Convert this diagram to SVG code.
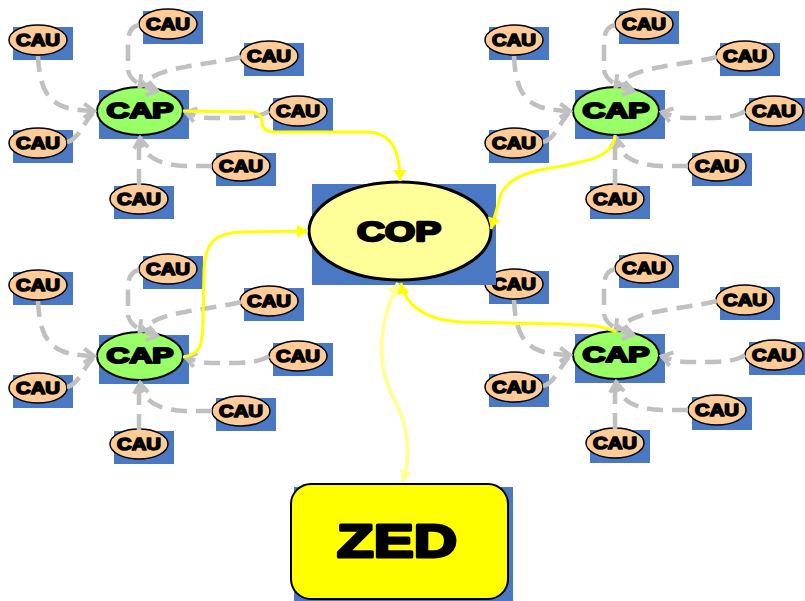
<svg xmlns="http://www.w3.org/2000/svg" width="805" height="601" viewBox="0 0 805 601">
<style>
.sh{fill:#4a78c2}
.cau{fill:#ffcc99;stroke:#000;stroke-width:1.5}
.cap{fill:#99ff66;stroke:#000;stroke-width:2}
.cop{fill:#ffff99;stroke:#000;stroke-width:3}
.zed{fill:#ffff00;stroke:#000;stroke-width:2}
text{font-family:"Liberation Sans",Arial,sans-serif;font-weight:bold;text-anchor:middle;fill:#000;stroke:#000;stroke-linejoin:round}
.t-cau{font-size:16px;stroke-width:1.5}
.t-cap{font-size:22px;stroke-width:2.1}
.t-cop{font-size:28px;stroke-width:2.4}
.t-zed{font-size:47px;stroke-width:3}
.g{fill:none;stroke:#c0c0c0;stroke-width:4.5;stroke-dasharray:16 9;marker-end:url(#ga)}
.y{fill:none;stroke:#ffff00;stroke-width:3;marker-end:url(#ya)}
.p{fill:none;stroke:#ffff99;stroke-width:4;marker-end:url(#pa);marker-start:url(#pa)}
</style>
<defs>
<marker id="ga" markerUnits="userSpaceOnUse" viewBox="-15 -10 17 20" markerWidth="17" markerHeight="20" refX="0" refY="0" orient="auto">
<path d="M-11,-7 L-1,0 L-11,7" fill="none" stroke="#c0c0c0" stroke-width="4"/>
</marker>
<marker id="ya" markerUnits="userSpaceOnUse" viewBox="-12 -7 13 14" markerWidth="13" markerHeight="14" refX="0" refY="0" orient="auto">
<path d="M-11,-6.5 L0,0 L-11,6.5 Z" fill="#ffff00"/>
</marker>
<marker id="pa" markerUnits="userSpaceOnUse" viewBox="-12 -7 13 14" markerWidth="13" markerHeight="14" refX="0" refY="0" orient="auto-start-reverse">
<path d="M-11,-6.5 L0,0 L-11,6.5 Z" fill="#ffff99"/>
</marker>
</defs>
<rect width="805" height="601" fill="#fff"/>

<g id="cluster-tl">
<g id="cap-tl" transform="translate(140,111)"><rect class="sh" x="-41" y="-21" width="90" height="49"/><ellipse class="cap" rx="43" ry="24"/><text class="t-cap" y="7" textLength="67" lengthAdjust="spacingAndGlyphs">CAP</text></g>
<g id="cau-tl-1" transform="translate(38,40)"><rect class="sh" x="-25" y="-13" width="60" height="33"/><ellipse class="cau" rx="29" ry="15"/><text class="t-cau" y="6" textLength="44" lengthAdjust="spacingAndGlyphs">CAU</text></g>
<g id="cau-tl-2" transform="translate(168,24)"><rect class="sh" x="-25" y="-13" width="60" height="33"/><ellipse class="cau" rx="29" ry="15"/><text class="t-cau" y="6" textLength="44" lengthAdjust="spacingAndGlyphs">CAU</text></g>
<g id="cau-tl-3" transform="translate(269,56)"><rect class="sh" x="-25" y="-13" width="60" height="33"/><ellipse class="cau" rx="29" ry="15"/><text class="t-cau" y="6" textLength="44" lengthAdjust="spacingAndGlyphs">CAU</text></g>
<g id="cau-tl-4" transform="translate(298,111)"><rect class="sh" x="-25" y="-13" width="60" height="33"/><ellipse class="cau" rx="29" ry="15"/><text class="t-cau" y="6" textLength="44" lengthAdjust="spacingAndGlyphs">CAU</text></g>
<g id="cau-tl-5" transform="translate(241,166)"><rect class="sh" x="-25" y="-13" width="60" height="33"/><ellipse class="cau" rx="29" ry="15"/><text class="t-cau" y="6" textLength="44" lengthAdjust="spacingAndGlyphs">CAU</text></g>
<g id="cau-tl-6" transform="translate(139,199)"><rect class="sh" x="-25" y="-13" width="60" height="33"/><ellipse class="cau" rx="29" ry="15"/><text class="t-cau" y="6" textLength="44" lengthAdjust="spacingAndGlyphs">CAU</text></g>
<g id="cau-tl-7" transform="translate(38,143)"><rect class="sh" x="-25" y="-13" width="60" height="33"/><ellipse class="cau" rx="29" ry="15"/><text class="t-cau" y="6" textLength="44" lengthAdjust="spacingAndGlyphs">CAU</text></g>
</g>

<g id="cluster-tr" transform="translate(476,0)">
<g id="cap-tr" transform="translate(140,111)"><rect class="sh" x="-41" y="-21" width="90" height="49"/><ellipse class="cap" rx="43" ry="24"/><text class="t-cap" y="7" textLength="67" lengthAdjust="spacingAndGlyphs">CAP</text></g>
<g id="cau-tr-1" transform="translate(38,40)"><rect class="sh" x="-25" y="-13" width="60" height="33"/><ellipse class="cau" rx="29" ry="15"/><text class="t-cau" y="6" textLength="44" lengthAdjust="spacingAndGlyphs">CAU</text></g>
<g id="cau-tr-2" transform="translate(168,24)"><rect class="sh" x="-25" y="-13" width="60" height="33"/><ellipse class="cau" rx="29" ry="15"/><text class="t-cau" y="6" textLength="44" lengthAdjust="spacingAndGlyphs">CAU</text></g>
<g id="cau-tr-3" transform="translate(269,56)"><rect class="sh" x="-25" y="-13" width="60" height="33"/><ellipse class="cau" rx="29" ry="15"/><text class="t-cau" y="6" textLength="44" lengthAdjust="spacingAndGlyphs">CAU</text></g>
<g id="cau-tr-4" transform="translate(298,111)"><rect class="sh" x="-25" y="-13" width="60" height="33"/><ellipse class="cau" rx="29" ry="15"/><text class="t-cau" y="6" textLength="44" lengthAdjust="spacingAndGlyphs">CAU</text></g>
<g id="cau-tr-5" transform="translate(241,166)"><rect class="sh" x="-25" y="-13" width="60" height="33"/><ellipse class="cau" rx="29" ry="15"/><text class="t-cau" y="6" textLength="44" lengthAdjust="spacingAndGlyphs">CAU</text></g>
<g id="cau-tr-6" transform="translate(139,199)"><rect class="sh" x="-25" y="-13" width="60" height="33"/><ellipse class="cau" rx="29" ry="15"/><text class="t-cau" y="6" textLength="44" lengthAdjust="spacingAndGlyphs">CAU</text></g>
<g id="cau-tr-7" transform="translate(38,143)"><rect class="sh" x="-25" y="-13" width="60" height="33"/><ellipse class="cau" rx="29" ry="15"/><text class="t-cau" y="6" textLength="44" lengthAdjust="spacingAndGlyphs">CAU</text></g>
</g>

<g id="cluster-bl" transform="translate(0,245)">
<g id="cap-bl" transform="translate(140,111)"><rect class="sh" x="-41" y="-21" width="90" height="49"/><ellipse class="cap" rx="43" ry="24"/><text class="t-cap" y="7" textLength="67" lengthAdjust="spacingAndGlyphs">CAP</text></g>
<g id="cau-bl-1" transform="translate(38,40)"><rect class="sh" x="-25" y="-13" width="60" height="33"/><ellipse class="cau" rx="29" ry="15"/><text class="t-cau" y="6" textLength="44" lengthAdjust="spacingAndGlyphs">CAU</text></g>
<g id="cau-bl-2" transform="translate(168,24)"><rect class="sh" x="-25" y="-13" width="60" height="33"/><ellipse class="cau" rx="29" ry="15"/><text class="t-cau" y="6" textLength="44" lengthAdjust="spacingAndGlyphs">CAU</text></g>
<g id="cau-bl-3" transform="translate(269,56)"><rect class="sh" x="-25" y="-13" width="60" height="33"/><ellipse class="cau" rx="29" ry="15"/><text class="t-cau" y="6" textLength="44" lengthAdjust="spacingAndGlyphs">CAU</text></g>
<g id="cau-bl-4" transform="translate(298,111)"><rect class="sh" x="-25" y="-13" width="60" height="33"/><ellipse class="cau" rx="29" ry="15"/><text class="t-cau" y="6" textLength="44" lengthAdjust="spacingAndGlyphs">CAU</text></g>
<g id="cau-bl-5" transform="translate(241,166)"><rect class="sh" x="-25" y="-13" width="60" height="33"/><ellipse class="cau" rx="29" ry="15"/><text class="t-cau" y="6" textLength="44" lengthAdjust="spacingAndGlyphs">CAU</text></g>
<g id="cau-bl-6" transform="translate(139,199)"><rect class="sh" x="-25" y="-13" width="60" height="33"/><ellipse class="cau" rx="29" ry="15"/><text class="t-cau" y="6" textLength="44" lengthAdjust="spacingAndGlyphs">CAU</text></g>
<g id="cau-bl-7" transform="translate(38,143)"><rect class="sh" x="-25" y="-13" width="60" height="33"/><ellipse class="cau" rx="29" ry="15"/><text class="t-cau" y="6" textLength="44" lengthAdjust="spacingAndGlyphs">CAU</text></g>
</g>

<g id="cluster-br" transform="translate(476,244)">
<g id="cap-br" transform="translate(140,111)"><rect class="sh" x="-41" y="-21" width="90" height="49"/><ellipse class="cap" rx="43" ry="24"/><text class="t-cap" y="7" textLength="67" lengthAdjust="spacingAndGlyphs">CAP</text></g>
<g id="cau-br-1" transform="translate(38,40)"><rect class="sh" x="-25" y="-13" width="60" height="33"/><ellipse class="cau" rx="29" ry="15"/><text class="t-cau" y="6" textLength="44" lengthAdjust="spacingAndGlyphs">CAU</text></g>
<g id="cau-br-2" transform="translate(168,24)"><rect class="sh" x="-25" y="-13" width="60" height="33"/><ellipse class="cau" rx="29" ry="15"/><text class="t-cau" y="6" textLength="44" lengthAdjust="spacingAndGlyphs">CAU</text></g>
<g id="cau-br-3" transform="translate(269,56)"><rect class="sh" x="-25" y="-13" width="60" height="33"/><ellipse class="cau" rx="29" ry="15"/><text class="t-cau" y="6" textLength="44" lengthAdjust="spacingAndGlyphs">CAU</text></g>
<g id="cau-br-4" transform="translate(298,111)"><rect class="sh" x="-25" y="-13" width="60" height="33"/><ellipse class="cau" rx="29" ry="15"/><text class="t-cau" y="6" textLength="44" lengthAdjust="spacingAndGlyphs">CAU</text></g>
<g id="cau-br-5" transform="translate(241,166)"><rect class="sh" x="-25" y="-13" width="60" height="33"/><ellipse class="cau" rx="29" ry="15"/><text class="t-cau" y="6" textLength="44" lengthAdjust="spacingAndGlyphs">CAU</text></g>
<g id="cau-br-6" transform="translate(139,199)"><rect class="sh" x="-25" y="-13" width="60" height="33"/><ellipse class="cau" rx="29" ry="15"/><text class="t-cau" y="6" textLength="44" lengthAdjust="spacingAndGlyphs">CAU</text></g>
<g id="cau-br-7" transform="translate(38,143)"><rect class="sh" x="-25" y="-13" width="60" height="33"/><ellipse class="cau" rx="29" ry="15"/><text class="t-cau" y="6" textLength="44" lengthAdjust="spacingAndGlyphs">CAU</text></g>
</g>

<g id="cop"><rect class="sh" x="312" y="184" width="184" height="101"/><ellipse class="cop" cx="400" cy="231" rx="91" ry="49"/><text class="t-cop" x="399" y="241" textLength="84" lengthAdjust="spacingAndGlyphs">COP</text></g>

<g id="zed"><rect class="sh" x="294" y="487" width="219" height="114"/><rect class="zed" x="291" y="484" width="217" height="115" rx="20"/><text class="t-zed" x="397" y="557" textLength="120" lengthAdjust="spacingAndGlyphs">ZED</text></g>

<g id="connectors">
<g id="links-tl">
<path class="g" d="M38,56 C40,105 60,110 95,111"/>
<path class="g" d="M67,142 C78,140 82,125 93,113" style="marker-end:none"/>
<path class="g" d="M139,25 C129,27 128,35 128,48 L128,70 C130,82 145,88 158,91"/>
<path class="g" d="M241,57 C220,62 200,64 185,67 C165,70 148,77 139,87"/>
<path class="g" d="M269,111 C262,116 250,118 230,118 L210,118 C200,118 192,114 185,112"/>
<path class="g" d="M212,166 L185,166 C160,165 142,157 140,137"/>
<path class="g" d="M139,185 L139,140" style="marker-end:none"/>
</g>
<g id="links-tr" transform="translate(476,0)">
<path class="g" d="M38,56 C40,105 60,110 95,111"/>
<path class="g" d="M67,142 C78,140 82,125 93,113" style="marker-end:none"/>
<path class="g" d="M139,25 C129,27 128,35 128,48 L128,70 C130,82 145,88 158,91"/>
<path class="g" d="M241,57 C220,62 200,64 185,67 C165,70 148,77 139,87"/>
<path class="g" d="M269,111 C262,116 250,118 230,118 L210,118 C200,118 192,114 185,112"/>
<path class="g" d="M212,166 L185,166 C160,165 142,157 140,137"/>
<path class="g" d="M139,185 L139,140" style="marker-end:none"/>
</g>
<g id="links-bl" transform="translate(0,245)">
<path class="g" d="M38,56 C40,105 60,110 95,111"/>
<path class="g" d="M67,142 C78,140 82,125 93,113" style="marker-end:none"/>
<path class="g" d="M139,25 C129,27 128,35 128,48 L128,70 C130,82 145,88 158,91"/>
<path class="g" d="M241,57 C220,62 200,64 185,67 C165,70 148,77 139,87"/>
<path class="g" d="M269,111 C262,116 250,118 230,118 L210,118 C200,118 192,114 185,112"/>
<path class="g" d="M212,166 L185,166 C160,165 142,157 140,137"/>
<path class="g" d="M139,185 L139,140" style="marker-end:none"/>
</g>
<g id="links-br" transform="translate(476,244)">
<path class="g" d="M38,56 C40,105 60,110 95,111"/>
<path class="g" d="M67,142 C78,140 82,125 93,113" style="marker-end:none"/>
<path class="g" d="M139,25 C129,27 128,35 128,48 L128,70 C130,82 145,88 158,91"/>
<path class="g" d="M241,57 C220,62 200,64 185,67 C165,70 148,77 139,87"/>
<path class="g" d="M269,111 C262,116 250,118 230,118 L210,118 C200,118 192,114 185,112"/>
<path class="g" d="M212,166 L185,166 C160,165 142,157 140,137"/>
<path class="g" d="M139,185 L139,140" style="marker-end:none"/>
</g>
<g id="links-main">
<path class="p" d="M398,283 C380,320 375,360 392,395 C408,425 412,450 403,482"/>
<path class="y" d="M183,111 L252,112 C260,113 262,117 262,122 C262,128 266,132 276,132 L368,132 C390,133 400,148 400,181"/>
<path class="y" d="M615,135 C614,158 585,162 545,169 C508,176 500,190 498,205 L491,229"/>
<path class="y" d="M183,357 C200,355 203,345 203,320 L204,270 C205,242 215,232 245,232 L308,231"/>
<path class="y" d="M616,332 C602,325 590,325 560,324 L460,322 C425,320 405,305 401,283"/>
</g>
</g>
</svg>
